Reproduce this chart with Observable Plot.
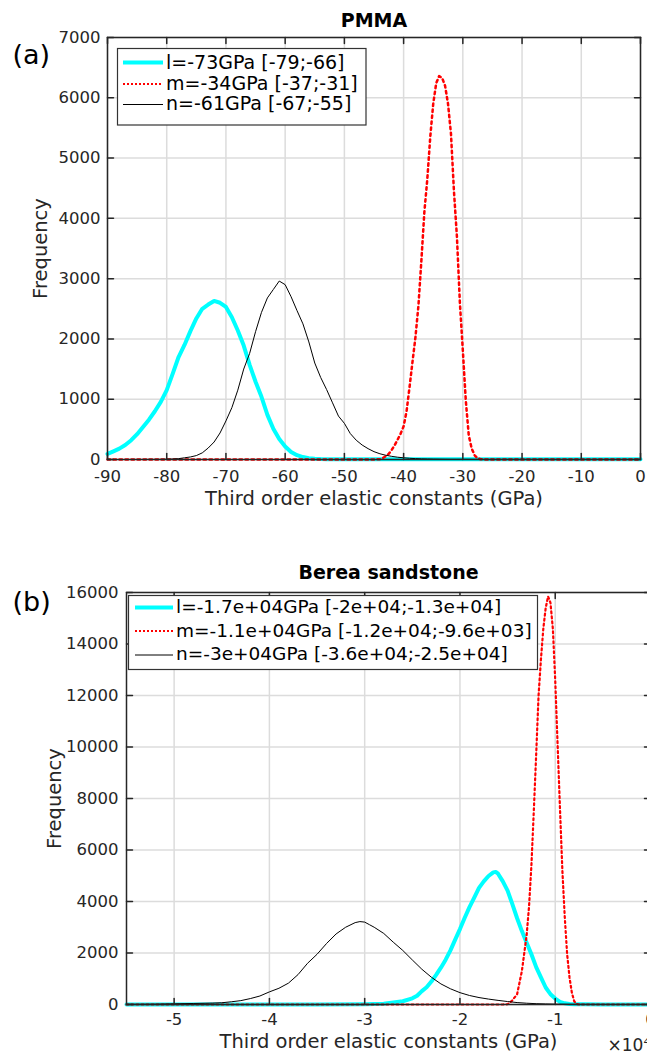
<!DOCTYPE html>
<html><head><meta charset="utf-8">
<script src="https://cdn.jsdelivr.net/npm/d3@7"></script>
<script src="https://cdn.jsdelivr.net/npm/@observablehq/plot@0.6"></script>
<style>
html,body{margin:0;padding:0;background:#fff;overflow:hidden;width:647px;height:1053px;}
#wrap{position:relative;width:647px;height:1053px;overflow:hidden;background:#fff;}
#pa,#pb{position:absolute;left:0;}
#pa{top:0;width:647px}
#pb{top:540px;width:660px}
#wrap svg{max-width:none !important;}
</style></head><body><div id="wrap"><div id="pa"></div><div id="pb"></div></div>
<script>
// ---------- Panel (a): PMMA ----------
const pmmaTitle = "PMMA";
const pmmaTag = "(a)";
const pmmaXTicks = [-90, -80, -70, -60, -50, -40, -30, -20, -10, 0];
const pmmaYTicks = [0, 1000, 2000, 3000, 4000, 5000, 6000, 7000];
const pmmaBins = d3.range(-90, 1, 1);
const pmmaL = [92,135,180,240,320,420,540,660,800,955,1150,1420,1700,1900,2130,2340,2500,2570,2630,2600,2530,2360,2140,1890,1570,1290,1040,740,510,340,215,125,72,40,22,13,8,6,5,5,4,
  4,4,4,3,3,3,3,3,3,3, 3,3,3,3,3,3,3,3,3,3, 3,3,3,3,3,3,3,3,3,3, 3,3,3,3,3,3,3,3,3,3, 3,3,3,3,3,3,3,3,3,3];
const pmmaN = [0,0,0,0,1,1,1,2,
  2,3,5,8,14,28,42,65,110,190,290,440,640,860,1150,1500,1760,2120,2440,2680,2820,2960,2900,2700,2470,2250,1950,1600,1360,1160,940,720,600,430,320,240,180,130,95,70,52,38,28,20,15,11,9,7,6,5,4,
  4,4,4,3,3,3,3,3,3,3,3,3,3,3,3,3,3,3,3,3,3,3,3,3,3,3,3,3,3,3,3,3];
const pmmaMX = [-90,-46,-45,-44,-43.5,-43,-42.5,-42,-41.5,-41,-40.5,-40,-39.5,-39,-38.5,-38,-37.5,-37,-36.5,-36,-35.5,-35,-34.5,-34,-33.5,-33,-32.5,-32,-31.5,-31,-30.5,-30,-29.5,-29,-28.5,-28,-27.5,-27,-26.5,-26,0];
const pmmaMY = [0,0,2,5,25,55,95,160,240,330,430,550,800,1200,1620,2030,2550,3300,4100,4650,5350,5900,6240,6360,6330,6200,5900,5400,4450,3700,2600,1810,980,400,180,70,20,5,1,0,0];
const pmmaLegend = ["l=-73GPa [-79;-66]", "m=-34GPa [-37;-31]", "n=-61GPa [-67;-55]"];

// ---------- Panel (b): Berea sandstone ----------
const bereaTitle = "Berea sandstone";
const bereaTag = "(b)";
const bereaXTicks = [-50000, -40000, -30000, -20000, -10000, 0];
const bereaXTickLabels = ["-5", "-4", "-3", "-2", "-1", "0"];
const bereaYTicks = [0, 2000, 4000, 6000, 8000, 10000, 12000, 14000, 16000];
const bereaLX = [-55000,-45000,-35000,-30000,-29000,-28000,-27000,-26000,-25000,-24500,-24000,-23500,-23000,-22500,-22000,-21500,-21000,-20500,-20000,-19500,-19000,-18500,-18000,-17500,-17000,-16500,-16250,-16000,-15500,-15000,-14500,-14000,-13500,-13000,-12500,-12000,-11500,-11000,-10500,-10000,-9500,-9000,-8500,-8000,-7000,-5000,0];
const bereaLY = [3,3,4,10,18,30,75,125,240,340,520,670,890,1150,1430,1740,2100,2520,2930,3370,3780,4150,4530,4780,4990,5130,5150,5080,4780,4420,3900,3350,2850,2400,1950,1450,1050,660,400,230,100,45,22,12,7,4,3];
const bereaMX = [-55000,-15500,-15000,-14500,-14000,-13500,-13000,-12750,-12500,-12250,-12000,-11750,-11500,-11250,-11000,-10750,-10500,-10250,-10000,-9750,-9500,-9250,-9000,-8750,-8500,-8250,-8000,-7750,-7500,0];
const bereaMY = [0,0,10,160,400,1300,2700,3800,5400,7500,9700,12000,13400,14600,15400,15850,15600,14600,12600,10100,7600,5200,3400,1950,1050,450,120,20,0,0];
const bereaNX = [-55000,-52000,-50000,-48000,-46000,-45000,-44000,-43000,-42000,-41000,-40000,-39000,-38000,-37000,-36000,-35000,-34000,-33000,-32000,-31000,-30500,-30000,-29500,-29000,-28000,-27000,-26000,-25000,-24000,-23000,-22000,-21000,-20000,-19000,-18000,-17000,-16000,-15000,-14000,-13000,-12000,-11000,-10000,-8000,-5000,0];
const bereaNY = [5,12,25,40,55,68,105,150,230,330,490,630,830,1160,1600,1950,2370,2740,3000,3180,3220,3200,3100,3000,2760,2420,2100,1730,1370,1060,800,610,460,350,270,210,160,115,75,50,32,22,15,9,5,3];
const bereaLegend = ["l=-1.7e+04GPa [-2e+04;-1.3e+04]", "m=-1.1e+04GPa [-1.2e+04;-9.6e+03]", "n=-3e+04GPa [-3.6e+04;-2.5e+04]"];
const bereaExp = "×10⁴";

const xLabel = "Third order elastic constants (GPa)";
const yLabel = "Frequency";

const rows = (xs, ys) => xs.map((x, i) => ({x, y: ys[i]}));
const FONT = "'DejaVu Sans', sans-serif";
const INK = "#262626";
const TICK = 6;

const tickUp = {draw(c, l) { c.moveTo(0, 0); c.lineTo(0, -l); }};
const tickDown = {draw(c, l) { c.moveTo(0, 0); c.lineTo(0, l); }};
const tickRight = {draw(c, l) { c.moveTo(0, 0); c.lineTo(l, 0); }};
const tickLeft = {draw(c, l) { c.moveTo(0, 0); c.lineTo(-l, 0); }};

function framedAxes(xT, yT, xFmt, xPad, yPad) {
  const t = {length: TICK, anchor: "start", stroke: INK, strokeWidth: 1.5};
  return [
    Plot.frame({stroke: INK, strokeWidth: 1.5}),
    Plot.vectorX(xT, {x: d => d, frameAnchor: "bottom", shape: tickUp, ...t}),
    Plot.vectorX(xT, {x: d => d, frameAnchor: "top", shape: tickDown, ...t}),
    Plot.vectorY(yT, {y: d => d, frameAnchor: "left", shape: tickRight, ...t}),
    Plot.vectorY(yT, {y: d => d, frameAnchor: "right", shape: tickLeft, ...t}),
    Plot.axisX(xT, {anchor: "bottom", tickSize: 0, tickPadding: xPad, label: null, tickFormat: xFmt}),
    Plot.axisY(yT, {anchor: "left", tickSize: 0, tickPadding: yPad, label: null, tickFormat: d => String(d)})
  ];
}

function addLegend(svg, L, labels, styles) {
  const g = d3.select(svg).append("g").attr("text-anchor", "start");
  g.append("rect").attr("x", L.x).attr("y", L.y).attr("width", L.w).attr("height", L.h)
    .attr("fill", "white").attr("stroke", "#333").attr("stroke-width", 1.2);
  labels.forEach((lab, i) => {
    const s = styles[i];
    g.append("line").attr("x1", L.lx1).attr("x2", L.lx2).attr("y1", L.ly[i]).attr("y2", L.ly[i])
      .attr("stroke", s.stroke).attr("stroke-width", s.w).attr("stroke-dasharray", s.dash || null);
    g.append("text").attr("x", L.tx).attr("y", L.ty[i]).attr("font-family", FONT)
      .attr("text-anchor", "start").attr("font-size", L.fs).attr("fill", "#000").text(lab);
  });
}

const gridStyle = {stroke: "#dcdcdc", strokeOpacity: 1, strokeWidth: 1.5};
const baseStyle = {fontFamily: FONT, fontSize: "16.5px", color: INK, background: "white", maxWidth: "none"};
const mid = {lineAnchor: "middle"};

// ----- chart (a) -----
const chartA = Plot.plot({
  width: 647, height: 525,
  marginTop: 37, marginBottom: 66, marginLeft: 107, marginRight: 7,
  x: {domain: [-90, 0]},
  y: {domain: [0, 7000]},
  style: baseStyle,
  marks: [
    Plot.gridX(pmmaXTicks, gridStyle),
    Plot.gridY(pmmaYTicks, gridStyle),
    Plot.line(rows(pmmaBins, pmmaL), {x: "x", y: "y", stroke: "#00ffff", strokeWidth: 4}),
    Plot.line(rows(pmmaMX, pmmaMY), {x: "x", y: "y", stroke: "#ff0000", strokeWidth: 2.5, strokeDasharray: "2.5,3.5"}),
    Plot.line(rows(pmmaBins, pmmaN), {x: "x", y: "y", stroke: "#000", strokeWidth: 1}),
    ...framedAxes(pmmaXTicks, pmmaYTicks, d => String(d), 11, 7),
    Plot.text([pmmaTitle], {...mid, frameAnchor: "top", textAnchor: "middle", dy: -17, fontWeight: "bold", fontSize: 19, fill: "#000"}),
    Plot.text([xLabel], {...mid, frameAnchor: "bottom", textAnchor: "middle", dy: 38.8, fontSize: 19.5}),
    Plot.text([yLabel], {...mid, frameAnchor: "left", textAnchor: "middle", dx: -67, rotate: -90, fontSize: 19.5}),
    Plot.text([pmmaTag], {...mid, frameAnchor: "top-left", dx: -95, dy: 17.4, textAnchor: "start", fontSize: 27, fill: "#000"})
  ]
});
document.getElementById("pa").appendChild(chartA);
const legStyles = [
  {stroke: "#00ffff", w: 4},
  {stroke: "#ff0000", w: 2, dash: "2,2"},
  {stroke: "#000", w: 1}
];
addLegend(chartA, {x: 117.5, y: 48.5, w: 248.5, h: 76.5, lx1: 123, lx2: 163, ly: [62.5, 84, 104.5], tx: 166, ty: [68.5, 89.5, 110], fs: 19}, pmmaLegend, legStyles);

// ----- chart (b) -----
const bx = new Map(bereaXTicks.map((t, i) => [t, bereaXTickLabels[i]]));
const chartB = Plot.plot({
  width: 660, height: 513,
  marginTop: 52, marginBottom: 49, marginLeft: 126, marginRight: 10,
  x: {domain: [-55000, 0]},
  y: {domain: [0, 16000]},
  style: baseStyle,
  marks: [
    Plot.gridX(bereaXTicks, gridStyle),
    Plot.gridY(bereaYTicks, gridStyle),
    Plot.line(rows(bereaLX, bereaLY), {x: "x", y: "y", stroke: "#00ffff", strokeWidth: 4}),
    Plot.line(rows(bereaMX, bereaMY), {x: "x", y: "y", stroke: "#ff0000", strokeWidth: 2.2, strokeDasharray: "2,3"}),
    Plot.line(rows(bereaNX, bereaNY), {x: "x", y: "y", stroke: "#000", strokeWidth: 1}),
    ...framedAxes(bereaXTicks, bereaYTicks, d => bx.get(d), 9, 8),
    Plot.text([bereaTitle], {...mid, frameAnchor: "top", textAnchor: "middle", dy: -20, fontWeight: "bold", fontSize: 19, fill: "#000"}),
    Plot.text([xLabel], {...mid, frameAnchor: "bottom", textAnchor: "middle", dy: 36.8, fontSize: 19.5}),
    Plot.text([yLabel], {...mid, frameAnchor: "left", textAnchor: "middle", dx: -72, rotate: -90, fontSize: 19.5}),
    Plot.text([bereaTag], {...mid, frameAnchor: "top-left", dx: -114, dy: 9.4, textAnchor: "start", fontSize: 27, fill: "#000"}),
    Plot.text([bereaExp], {...mid, frameAnchor: "bottom-right", dx: -43, dy: 40.6, textAnchor: "start", fontSize: 17})
  ]
});
document.getElementById("pb").appendChild(chartB);
addLegend(chartB, {x: 128.5, y: 55.5, w: 409, h: 74, lx1: 135, lx2: 173, ly: [67.5, 91, 115], tx: 176, ty: [73, 96.5, 120], fs: 18.5}, bereaLegend, legStyles);
</script></body></html>
